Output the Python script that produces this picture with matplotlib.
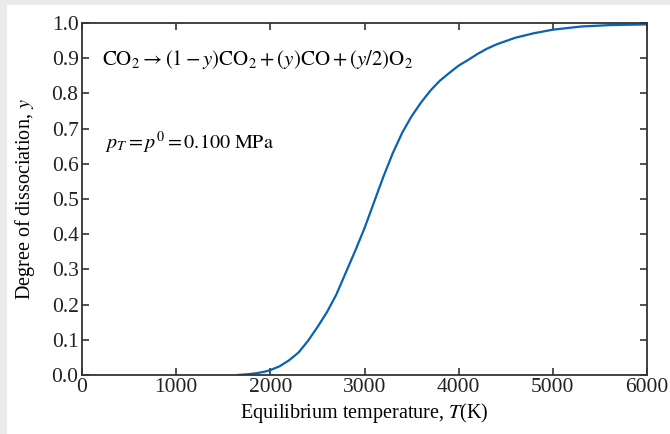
import matplotlib
matplotlib.use("Agg")
import matplotlib.pyplot as plt
from matplotlib.patches import Rectangle

# Degree of dissociation of CO2 versus equilibrium temperature
temperature_K = [1650, 1750, 1850, 1950, 2000, 2100, 2200, 2300, 2400, 2500,
                 2600, 2700, 2800, 2900, 3000, 3100, 3200, 3300, 3400, 3500,
                 3600, 3700, 3800, 3900, 4000, 4100, 4200, 4300, 4400, 4600,
                 4800, 5000, 5300, 5600, 6000]
dissociation_y = [0.000, 0.002, 0.005, 0.010, 0.014, 0.025, 0.042, 0.064, 0.097, 0.136,
                  0.178, 0.228, 0.290, 0.352, 0.417, 0.490, 0.563, 0.630, 0.688, 0.735,
                  0.774, 0.808, 0.836, 0.858, 0.879, 0.895, 0.912, 0.927, 0.939, 0.958,
                  0.971, 0.981, 0.990, 0.994, 0.996]

x_ticks = [0, 1000, 2000, 3000, 4000, 5000, 6000]
y_ticks = [0.0, 0.1, 0.2, 0.3, 0.4, 0.5, 0.6, 0.7, 0.8, 0.9, 1.0]

plt.rcParams["font.family"] = ["Liberation Serif", "DejaVu Serif"]
plt.rcParams["mathtext.fontset"] = "stix"

W, H = 670, 434
FS = 14.5
fig = plt.figure(figsize=(W / 100, H / 100), dpi=100)
fig.patch.set_facecolor("white")
# light grey frame strips along the top and left edges
for x0, y0, w, h in [(0, 0, 7 / W, 1), (0, 1 - 5 / H, 1, 5 / H)]:
    fig.patches.append(Rectangle((x0, y0), w, h, transform=fig.transFigure,
                                 facecolor="#ebebeb", edgecolor="none", zorder=-5))

ax = fig.add_axes([82 / W, 59 / H, (647 - 82) / W, (375 - 23) / H])
ax.plot(temperature_K, dissociation_y, color="#0a62b0", lw=1.6,
        solid_capstyle="round", solid_joinstyle="round")

ax.set_xlim(0, 6000)
ax.set_ylim(0, 1.0)
ax.set_xticks(x_ticks)
ax.set_xticklabels([str(t) for t in x_ticks])
ax.set_yticks(y_ticks)
ax.set_yticklabels([f"{v:.1f}" for v in y_ticks])
ax.tick_params(direction="in", length=5, width=1.1, top=True, right=True,
               labelsize=15.5, colors="#222222", pad=2.5)
for s in ax.spines.values():
    s.set_linewidth(1.3)
    s.set_color("#333333")

ax.set_xlabel("Equilibrium temperature, $T$(K)", fontsize=FS)
ax.set_ylabel("Degree of dissociation, $y$", fontsize=FS)
ax.xaxis.set_label_coords(0.5, -0.074)
ax.yaxis.set_label_coords(-0.08, 0.5)

ax.text(215, 0.895,
        r"$\mathrm{CO_2}\rightarrow(1-y)\mathrm{CO_2}+(y)\mathrm{CO}+(y/2)\mathrm{O_2}$",
        fontsize=15, va="center", ha="left")
ax.text(245, 0.66, r"$p_T = p^0 = 0.100\ \mathrm{MPa}$",
        fontsize=FS, va="center", ha="left")

fig.savefig("out.png", dpi=100, facecolor=fig.get_facecolor())
